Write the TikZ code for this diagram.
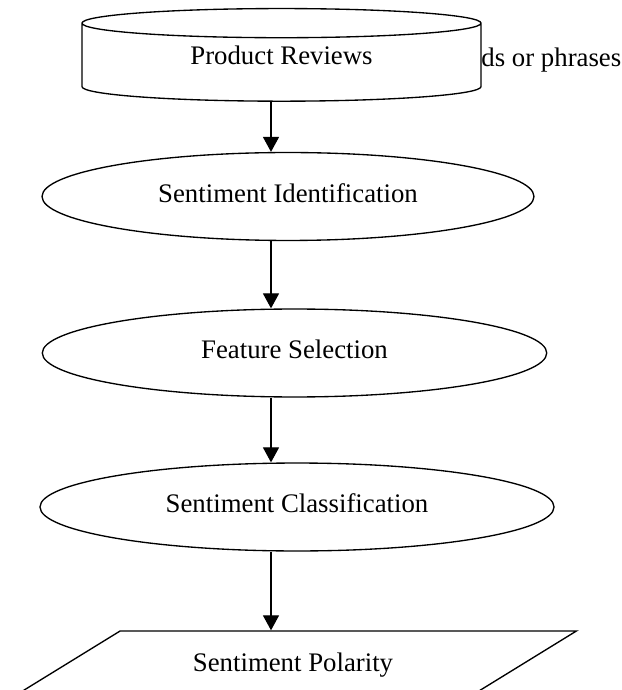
\documentclass[tikz,border=0pt]{standalone}
\usepackage{fontspec}
\setmainfont{Liberation Serif}
\usetikzlibrary{arrows.meta,positioning,shapes.geometric}

\begin{document}
\begin{tikzpicture}[x=0.448pt, y=-0.448pt, every node/.style={font=\fontsize{12}{14}\selectfont}, stage/.style={draw,ellipse,line width=0.6pt,inner sep=0pt,minimum height=39.4pt,text depth=3.5pt}, arr/.style={-{Triangle[length=6.7pt,width=7.2pt]},line width=0.5pt}]
\clip (0,0) rectangle (621,690);
\node[draw,cylinder,shape border rotate=90,aspect=0.16,minimum width=178.8pt,minimum height=41.5pt,inner sep=0pt,text depth=6.2pt,line width=0.6pt] (rev) at (281.5,62.5) {Product Reviews};
\node[anchor=west,inner sep=0pt] (cut) at (481,60) {ds or phrases};
\node[stage,minimum width=220.4pt] (ident) at (288,196.5) {Sentiment Identification};
\node[stage,minimum width=226pt] (feat) at (294.5,353) {Feature Selection};
\node[stage,minimum width=230.3pt] (cls) at (297,507) {Sentiment Classification};
\node[draw,trapezium,trapezium left angle=29.7,trapezium right angle=150.3,trapezium stretches=true,minimum width=254.5pt,minimum height=30.5pt,line width=0.6pt] (pol) at (293,665) {Sentiment Polarity};
\coordinate (ax) at (271,0);
\draw[arr] (rev.south -| ax) -- (ident.north -| ax);
\draw[arr] (ident.south -| ax) -- (feat.north -| ax);
\draw[arr] (feat.south -| ax) -- (cls.north -| ax);
\draw[arr] (cls.south -| ax) -- (pol.north -| ax);
\end{tikzpicture}
\end{document}
